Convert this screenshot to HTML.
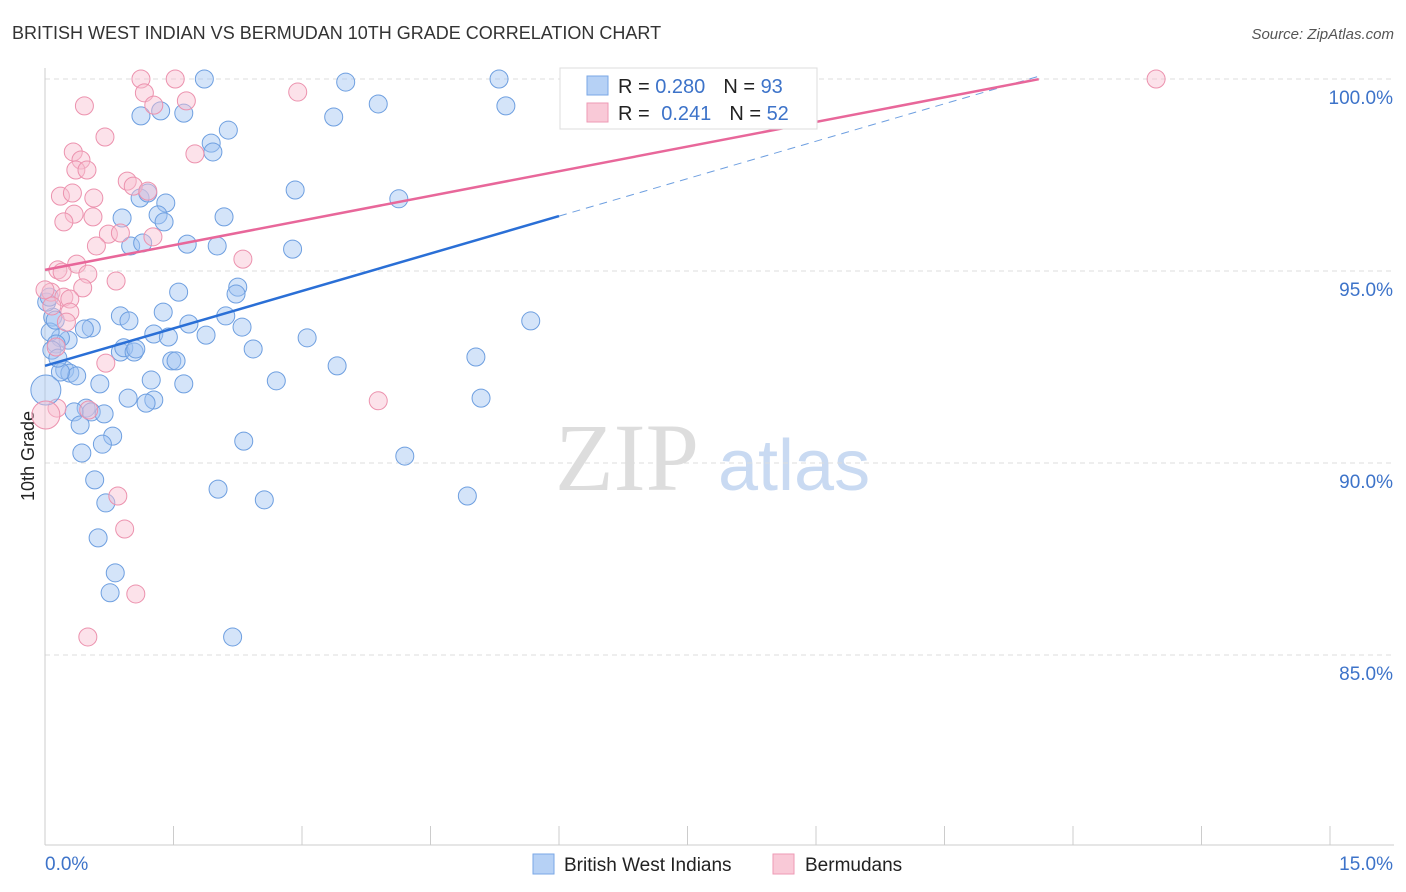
<!DOCTYPE html>
<html><head><meta charset="utf-8"><style>
body{margin:0;background:#fff;font-family:"Liberation Sans",sans-serif;}
#wrap{position:relative;width:1406px;height:892px;overflow:hidden;}
</style></head><body>
<div id="wrap">
<svg id="svg" width="1406" height="892" xmlns="http://www.w3.org/2000/svg" font-family="Liberation Sans, sans-serif">
<text x="12" y="39" font-size="18" fill="#333">BRITISH WEST INDIAN VS BERMUDAN 10TH GRADE CORRELATION CHART</text>
<text x="1394" y="39" font-size="15" font-style="italic" fill="#555" text-anchor="end">Source: ZipAtlas.com</text>
<text x="34" y="456" font-size="18" fill="#222" text-anchor="middle" transform="rotate(-90 34 456)">10th Grade</text>
<text x="555" y="490" font-size="96" fill="#ddd" font-family="Liberation Serif, serif">ZIP</text>
<text x="718" y="490" font-size="72" fill="#c9daf2">atlas</text>
<g id="grid"></g><g id="pts"></g><g id="lines"></g>
<g>
<rect x="560" y="68" width="257" height="61" fill="#fff" stroke="#ddd"/>
<rect x="587" y="76" width="21" height="19" fill="#b6d1f5" stroke="#7aa7e6"/>
<rect x="587" y="103" width="21" height="19" fill="#f9c9d7" stroke="#ee9ab4"/>
<text x="618" y="93" font-size="20" fill="#222">R = <tspan fill="#3d73c9">0.280</tspan><tspan dx="18">N = </tspan><tspan fill="#3d73c9">93</tspan></text>
<text x="618" y="120" font-size="20" fill="#222">R = <tspan dx="6" fill="#3d73c9">0.241</tspan><tspan dx="18">N = </tspan><tspan fill="#3d73c9">52</tspan></text>
</g>
<g>
<rect x="533" y="854" width="21" height="20" fill="#b6d1f5" stroke="#7aa7e6"/>
<text x="564" y="871" font-size="19" fill="#222">British West Indians</text>
<rect x="773" y="854" width="21" height="20" fill="#f9c9d7" stroke="#ee9ab4"/>
<text x="805" y="871" font-size="19" fill="#222">Bermudans</text>
</g>
<text x="45" y="870" font-size="19" fill="#3d73c9">0.0%</text>
<text x="1393" y="870" font-size="19" fill="#3d73c9" text-anchor="end">15.0%</text>
</svg>
</div>
<script>
const yTicks=[100,95,90,85];
const blueX=[1.86,3.51,5.30,3.89,5.38,1.12,1.62,1.35,3.37,2.14,1.94,1.96,2.92,4.13,1.11,1.20,1.41,0.90,1.32,1.39,2.09,1.00,1.14,1.66,2.01,2.89,2.25,1.56,2.23,0.88,0.98,1.38,1.68,2.11,2.30,1.27,1.44,1.88,3.06,0.54,0.46,0.27,0.18,0.09,0.06,0.13,0.88,0.92,1.04,1.06,1.48,1.53,2.43,3.41,5.03,5.67,0.23,0.29,0.37,1.24,0.64,1.62,2.70,0.97,1.27,1.18,0.48,0.54,0.34,0.69,0.41,0.79,0.67,2.32,0.43,4.20,5.09,0.58,2.02,0.71,2.56,4.93,0.62,0.82,0.76,2.19,0.02,0.05,0.12,0.08,0.18,0.15];
const blueY=[100,99.92,100,99.35,99.30,99.04,99.11,99.17,99.01,98.67,98.33,98.10,97.11,96.88,96.90,97.03,96.77,96.38,96.46,96.28,96.41,95.65,95.73,95.70,95.65,95.57,94.58,94.45,94.40,93.83,93.70,93.93,93.62,93.83,93.54,93.36,93.28,93.33,93.26,93.52,93.49,93.20,93.26,93.80,93.41,93.10,92.89,93.00,92.89,92.97,92.66,92.66,92.97,92.53,92.76,93.70,92.42,92.34,92.27,92.16,92.06,92.06,92.14,91.69,91.64,91.56,91.43,91.33,91.33,91.28,90.99,90.70,90.49,90.57,90.26,90.18,91.69,89.56,89.32,88.96,89.04,89.14,88.05,87.14,86.62,85.47,94.19,94.32,93.72,92.94,92.37,92.73];
const pinkX=[1.12,1.52,12.97,0.46,1.16,1.65,1.27,2.95,0.70,1.75,0.33,0.42,0.36,0.49,0.96,1.03,1.20,0.18,0.32,0.57,0.34,0.56,0.22,0.74,0.88,1.26,0.60,2.31,0.37,0.15,0.20,0.50,0.83,0.44,0.07,0.22,0.29,0.08,0.29,0.25,0.13,0.71,0.00,3.89,0.51,0.14,0.85,0.93,1.06,0.50];
const pinkY=[100,100,100,99.30,99.64,99.43,99.32,99.66,98.49,98.05,98.10,97.89,97.63,97.63,97.34,97.21,97.08,96.95,97.03,96.90,96.48,96.41,96.28,95.96,95.99,95.89,95.65,95.31,95.18,95.03,94.97,94.92,94.74,94.56,94.45,94.32,94.27,94.09,93.93,93.67,93.02,92.60,94.51,91.62,91.38,91.43,89.14,88.28,86.59,85.47];
const bigBlue=[0.01,91.90];
const bigPink=[0.01,91.25];
const blueTrend=[92.53,0.65,6.0,11.6];
const pinkTrend=[95.03,0.428,11.6];
const NS="http://www.w3.org/2000/svg";
const sx=v=>45+v/1.5*128.5, sy=v=>79+(100-v)/5*192;
function mk(t,a,p){const e=document.createElementNS(NS,t);for(const k in a)e.setAttribute(k,a[k]);document.getElementById(p).appendChild(e);return e;}
yTicks.forEach(t=>{
 const l=mk('line',{x1:45,x2:1394,y1:sy(t),y2:sy(t),stroke:'#ddd','stroke-dasharray':'5,4'},'grid');
 
 
 const tx=mk('text',{x:1393,y:sy(t)+25,'font-size':19,fill:'#3d73c9','text-anchor':'end'},'grid');
 tx.textContent=t.toFixed(1)+'%';
 
 
});
mk('line',{x1:45,x2:45,y1:68,y2:845,stroke:'#ccc'},'grid');
mk('line',{x1:45,x2:1394,y1:845,y2:845,stroke:'#ccc'},'grid');
for(let i=0;i<=10;i++){const x=sx(i*1.5);const t=mk('line',{x1:x,x2:x,y1:826,y2:845,stroke:'#ccc'},'grid');}
blueX.forEach((x,i)=>{const c=mk('circle',{cx:sx(x),cy:sy(blueY[i]),r:9,fill:'rgba(160,196,242,0.45)',stroke:'#6e9fe0','stroke-width':1},'pts');
 
 });
pinkX.forEach((x,i)=>{const c=mk('circle',{cx:sx(x),cy:sy(pinkY[i]),r:9,fill:'rgba(248,190,208,0.45)',stroke:'#ec92ae','stroke-width':1},'pts');
 
 });
let b=mk('circle',{cx:sx(bigBlue[0]),cy:sy(bigBlue[1]),r:15,fill:'rgba(160,196,242,0.45)',stroke:'#6e9fe0'},'pts');


b=mk('circle',{cx:sx(bigPink[0]),cy:sy(bigPink[1]),r:14,fill:'rgba(248,190,208,0.45)',stroke:'#ec92ae'},'pts');


const by=x=>blueTrend[0]+blueTrend[1]*x, py=x=>pinkTrend[0]+pinkTrend[1]*x;
let l=mk('line',{x1:sx(0),y1:sy(by(0)),x2:sx(blueTrend[2]),y2:sy(by(blueTrend[2])),stroke:'#2a6fd6','stroke-width':2.5},'lines');


l=mk('line',{x1:sx(blueTrend[2]),y1:sy(by(blueTrend[2])),x2:sx(blueTrend[3]),y2:sy(by(blueTrend[3])),stroke:'#6e9fe0','stroke-width':1,'stroke-dasharray':'8,6'},'lines');


l=mk('line',{x1:sx(0),y1:sy(py(0)),x2:sx(pinkTrend[2]),y2:sy(py(pinkTrend[2])),stroke:'#e8679a','stroke-width':2.5},'lines');


</script>
</body></html>
